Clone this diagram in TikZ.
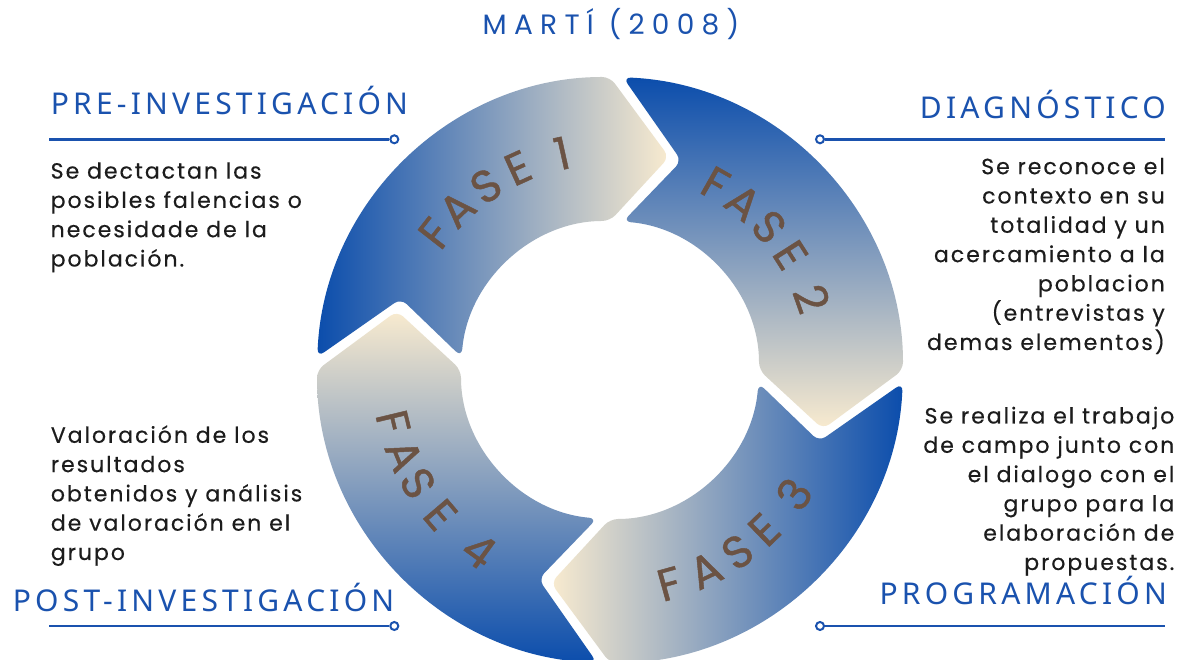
\documentclass[tikz,border=0pt]{standalone}
\usepackage{fontspec}
\newfontfamily\bodyf[LetterSpace=9,FakeBold=0.4]{Poppins}
\newfontfamily\headf[LetterSpace=14]{Noto Sans}
\newfontfamily\titlef[LetterSpace=26]{Poppins}
\newfontfamily\fasef[FakeBold=1]{Poppins}
\definecolor{dblue}{HTML}{0B4DAC}
\definecolor{cream}{HTML}{F9EBCF}
\definecolor{hblue}{HTML}{1A52AE}
\definecolor{fbrown}{HTML}{6B5344}
\definecolor{btext}{HTML}{1C1C1C}
\newcommand\arrowshape[2]{%
  \path[#2, rounded corners=8pt] ({#1+87.46}:293)
    arc[start angle={#1+87.46}, end angle=#1, radius=293]
    -- ({#1-15.5}:221) -- (#1:149)
    arc[start angle=#1, end angle={#1+85}, radius=149]
    -- ({#1+71.13}:221) -- cycle;}
\begin{document}
\begin{tikzpicture}[x=1pt,y=1pt,
  heading/.style={font=\headf\fontsize{30}{32}\selectfont, text=hblue, inner sep=0pt},
  bodytext/.style={font=\bodyf\fontsize{22}{29.3}\selectfont, text=btext, inner sep=0pt},
  hline/.style={draw=hblue, line width=2.5pt},
  dotc/.style={circle, draw=hblue, fill=white, line width=2pt, minimum size=8pt, inner sep=0pt},
  fasech/.style={font=\fasef\fontsize{45}{45}\selectfont, text=fbrown, inner sep=0pt}]
\useasboundingbox (0,0) rectangle (1178,660);
\fill[white] (0,0) rectangle (1178,660);

\begin{scope}[shift={(610,290)}]
  \arrowshape{90}{left color=dblue, right color=cream}
  \arrowshape{0}{top color=dblue, bottom color=cream}
  \arrowshape{270}{right color=dblue, left color=cream}
  \arrowshape{180}{bottom color=dblue, top color=cream}
  \foreach \c/\a in {F/142,A/133.5,S/124,E/114.5,1/102.5}
    \node[fasech, rotate={\a-90}] (fa\c) at (\a:222) {\c};
  \foreach \c/\a in {F/60.5,A/51.5,S/42,E/32.5,2/19.5}
    \node[fasech, rotate={\a-90}] (fb\c) at (\a:214) {\c};
  \foreach \c/\a in {F/285.5,A/295.5,S/305,E/314,3/326}
    \node[fasech, rotate={\a+90}] (fc\c) at (\a:222) {\c};
  \foreach \c/\a in {F/193.5,A/202.5,S/210.5,E/220.5,4/234}
    \node[fasech, rotate={\a+90}] (fd\c) at (\a:223) {\c};
\end{scope}

\node[font=\titlef\fontsize{28}{30}\selectfont, text=hblue, anchor=base, inner sep=0pt] (title) at (611,625) {MARTÍ (2008)};

\node[heading, anchor=base west] (h1) at (50.7,545) {PRE-INVESTIGACIÓN};
\node[heading, anchor=base east] (h2) at (1166,541.7) {DIAGNÓSTICO};
\node[heading, anchor=base west] (h4) at (12.7,48.3) {POST-INVESTIGACIÓN};
\node[heading, anchor=base east] (h3) at (1167,55) {PROGRAMACIÓN};

\coordinate (l1a) at (49,520.7);
\node[dotc] (l1b) at (394.3,520.7) {};
\draw[hline] (l1a) -- (l1b);
\node[dotc] (l2a) at (820,520.7) {};
\coordinate (l2b) at (1165,520.7);
\draw[hline] (l2a) -- (l2b);
\coordinate (l4a) at (49,34);
\node[dotc] (l4b) at (394.3,34) {};
\draw[hline] (l4a) -- (l4b);
\node[dotc] (l3a) at (820,34) {};
\coordinate (l3b) at (1165,34);
\draw[hline] (l3a) -- (l3b);

\node[bodytext, anchor=base west, align=left] (t1) at (50.5,393.5)
  {Se dectactan las\\posibles falencias o\\necesidade de la\\población.};
\node[bodytext, anchor=base east, align=right] (t2) at (1165,310)
  {Se reconoce el\\contexto en su\\totalidad y un\\acercamiento a la\\poblacion\\(entrevistas y\\demas elementos)};
\node[bodytext, anchor=base east, align=right] (t3) at (1174.5,90)
  {Se realiza el trabajo\\de campo junto con\\el dialogo con el\\grupo para la\\elaboración de\\propuestas.};
\node[bodytext, anchor=base west, align=left] (t4) at (50.7,100)
  {Valoración de los\\resultados\\obtenidos y análisis\\de valoración en el\\grupo};
\end{tikzpicture}
\end{document}
